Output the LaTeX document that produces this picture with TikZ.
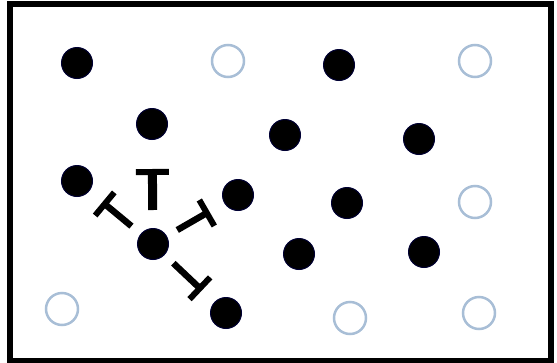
\documentclass[tikz,border=0pt]{standalone}
\usetikzlibrary{arrows.meta}
\begin{document}
\begin{tikzpicture}[x=1pt,y=-1pt,
  fdot/.style={circle,fill=black,draw=black!80!blue,line width=1pt,inner sep=0pt,minimum size=31pt},
  odot/.style={circle,draw=opencol,line width=2.5pt,inner sep=0pt,minimum size=32pt},
  inh/.style={line width=6.5pt,-{Bar[width=30pt,line width=6pt]},shorten <=12pt,shorten >=17pt}]
\definecolor{opencol}{RGB}{168,190,214}
\useasboundingbox (0,0) rectangle (557,362);
\draw[line width=6pt] (10,3.5) rectangle (550.5,360.5);
\def\filled{
f1/77/63,
f2/339/65,
f3/152/124,
f4/285/135,
f5/419/139,
f6/77/181,
f7/238/195,
f8/347/203,
c/153/244,
f9/299/254,
f10/424/252,
f11/226/313}
\def\open{
o1/228/61,
o2/475/61,
o3/475/202,
o4/62/309,
o5/350/318,
o6/479/313}
\foreach \n/\x/\y in \filled
  \node[fdot] (\n) at (\x,\y) {};
\foreach \n/\x/\y in \open
  \node[odot] (\n) at (\x,\y) {};
% inhibition from the centre cell
\draw[inh,line width=9pt,-{Bar[width=33pt,line width=6pt]},shorten <=18pt,shorten >=29pt] (c) -- (f3);
\draw[inh] (c) -- (f6);
\draw[inh] (c) -- (f7);
\draw[inh] (c) -- (f11);
\end{tikzpicture}
\end{document}
